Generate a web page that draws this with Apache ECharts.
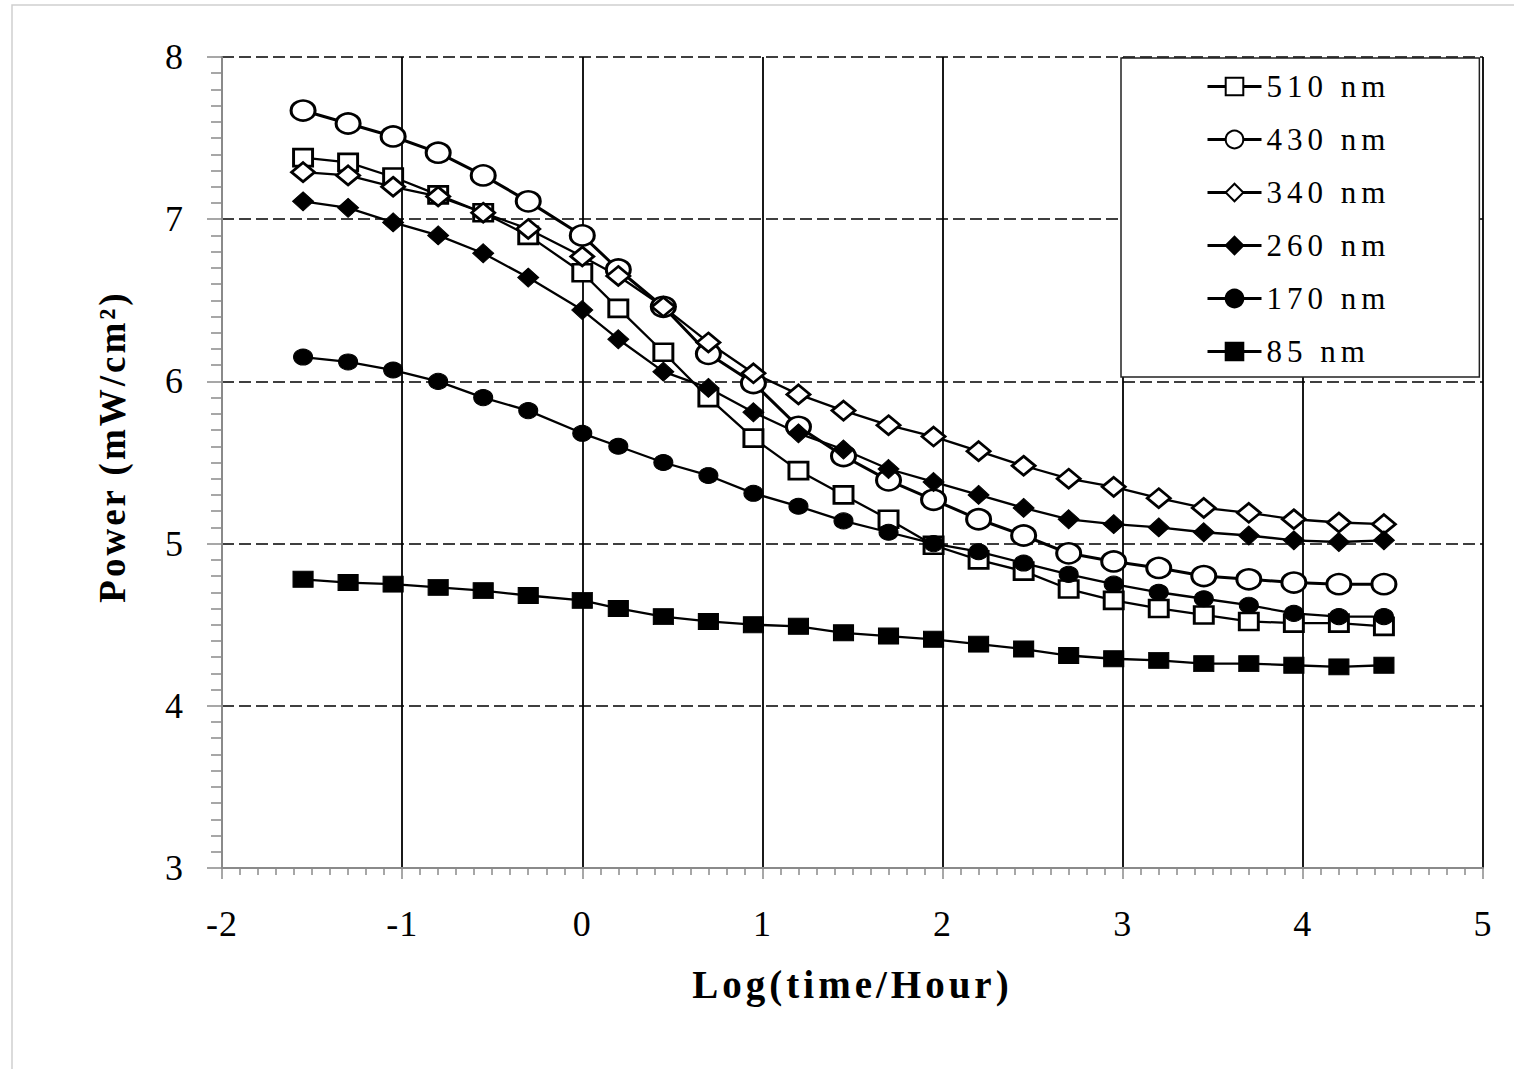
<!DOCTYPE html>
<html>
<head>
<meta charset="utf-8">
<style>
  html, body { margin: 0; padding: 0; background: #fff; }
  #main { width: 1514px; height: 1069px; }
  /* the source figure has widely tracked text; match it per text size */
  #main text[style*="36px"] { letter-spacing: 1px; }
  #main text[style*="31px"] { letter-spacing: 5px; }
  #main text[style*="39px"] { letter-spacing: 4px; }
  #main text[style*="37px"] { letter-spacing: 3px; }
</style>
</head>
<body>
<div id="main"></div>
<script src="https://cdn.jsdelivr.net/npm/echarts@6/dist/echarts.min.js"></script>
<script>
    // log(time/hour) sample points
    var logTime = [-1.55, -1.3, -1.05, -0.8, -0.55, -0.3, 0, 0.2, 0.45, 0.7, 0.95, 1.2, 1.45,
                   1.7, 1.95, 2.2, 2.45, 2.7, 2.95, 3.2, 3.45, 3.7, 3.95, 4.2, 4.45];

    var p510 = [7.38, 7.35, 7.26, 7.15, 7.04, 6.90, 6.67, 6.45, 6.18, 5.90, 5.65, 5.45, 5.30,
                5.15, 4.99, 4.90, 4.83, 4.72, 4.65, 4.60, 4.56, 4.52, 4.51, 4.51, 4.49];
    var p430 = [7.67, 7.59, 7.51, 7.41, 7.27, 7.11, 6.90, 6.69, 6.46, 6.17, 5.99, 5.72, 5.54,
                5.39, 5.27, 5.15, 5.05, 4.94, 4.89, 4.85, 4.80, 4.78, 4.76, 4.75, 4.75];
    var p340 = [7.29, 7.27, 7.20, 7.14, 7.04, 6.94, 6.77, 6.65, 6.46, 6.24, 6.05, 5.92, 5.82,
                5.73, 5.66, 5.57, 5.48, 5.40, 5.35, 5.28, 5.22, 5.19, 5.15, 5.13, 5.12];
    var p260 = [7.11, 7.07, 6.98, 6.90, 6.79, 6.64, 6.44, 6.26, 6.06, 5.96, 5.81, 5.68, 5.58,
                5.46, 5.38, 5.30, 5.22, 5.15, 5.12, 5.10, 5.07, 5.05, 5.02, 5.01, 5.02];
    var p170 = [6.15, 6.12, 6.07, 6.00, 5.90, 5.82, 5.68, 5.60, 5.50, 5.42, 5.31, 5.23, 5.14,
                5.07, 5.00, 4.95, 4.88, 4.81, 4.75, 4.70, 4.66, 4.62, 4.57, 4.55, 4.55];
    var p85  = [4.78, 4.76, 4.75, 4.73, 4.71, 4.68, 4.65, 4.60, 4.55, 4.52, 4.50, 4.49, 4.45,
                4.43, 4.41, 4.38, 4.35, 4.31, 4.29, 4.28, 4.26, 4.26, 4.25, 4.24, 4.25];

    var names = ['510 nm', '430 nm', '340 nm', '260 nm', '170 nm', '85 nm'];

    function pairs(arr) {
        return logTime.map(function (x, i) { return [x, arr[i]]; });
    }

    var font = 'Liberation Serif, Times New Roman, serif';
    var axisGrey = '#8a8a8a';
    var openItem = {color: '#fff', borderColor: '#000', borderWidth: 2.8};
    var fullItem = {color: '#000', borderColor: '#000', borderWidth: 1};

    function mkSeries(name, arr, symbol, size, item, lw) {
        return {
            name: name,
            type: 'line',
            data: pairs(arr),
            symbol: symbol,
            symbolSize: size,
            showAllSymbol: true,
            itemStyle: item,
            lineStyle: {color: '#000', width: lw},
            emphasis: {disabled: true}
        };
    }

    var myChart = echarts.init(document.getElementById('main'), null, {renderer: 'svg'});

    option = {
        animation: false,
        backgroundColor: '#fff',
        graphic: [{
            type: 'rect',
            shape: {x: 12, y: 5, width: 1520, height: 1100},
            style: {fill: 'none', stroke: '#cfcfcf', lineWidth: 1.5},
            silent: true
        }],
        grid: {left: 222, right: 31, top: 57, bottom: 201, outerBoundsMode: 'none'},
        legend: {
            orient: 'vertical',
            left: 1121,
            top: 58,
            padding: [13, 119, 10, 85],
            itemWidth: 54,
            itemHeight: 22,
            itemGap: 22,
            borderColor: '#222',
            borderWidth: 1.5,
            backgroundColor: '#fff',
            lineStyle: {width: 3, color: '#000'},
            textStyle: {fontSize: 31, fontFamily: font, color: '#000', lineHeight: 30},
            data: names
        },
        xAxis: {
            type: 'value',
            min: -2,
            max: 5,
            interval: 1,
            name: 'Log(time/Hour)',
            nameLocation: 'middle',
            nameGap: 97,
            nameTextStyle: {fontSize: 39, fontWeight: 'bold', fontFamily: font, color: '#000'},
            axisLine: {onZero: false, lineStyle: {color: axisGrey, width: 2}},
            axisTick: {length: 11, lineStyle: {color: axisGrey, width: 1.5}},
            minorTick: {show: true, splitNumber: 10, length: 7, lineStyle: {color: axisGrey, width: 1.5}},
            splitLine: {show: true, showMinLine: false, lineStyle: {color: '#000', width: 1.8}},
            axisLabel: {margin: 38, fontSize: 36, fontFamily: font, color: '#000'}
        },
        yAxis: {
            type: 'value',
            min: 3,
            max: 8,
            interval: 1,
            name: 'Power (mW/cm²)',
            nameLocation: 'middle',
            nameGap: 91,
            nameTextStyle: {fontSize: 37, fontWeight: 'bold', fontFamily: font, color: '#000',
                            padding: [0, 0, 0, 32]},
            axisLine: {onZero: false, lineStyle: {color: axisGrey, width: 2}},
            axisTick: {length: 15, lineStyle: {color: axisGrey, width: 1.5}},
            minorTick: {show: true, splitNumber: 10, length: 11, lineStyle: {color: axisGrey, width: 1.5}},
            splitLine: {show: true, showMinLine: false, lineStyle: {color: '#000', width: 1.6, type: [12, 5]}},
            axisLabel: {margin: 38, fontSize: 36, fontFamily: font, color: '#000'}
        },
        series: [
            mkSeries('510 nm', p510, 'rect', [19, 17], openItem, 2.3),
            mkSeries('430 nm', p430, 'circle', [24, 20], openItem, 3),
            mkSeries('340 nm', p340, 'diamond', [23, 19], openItem, 2.3),
            mkSeries('260 nm', p260, 'diamond', [21, 19], fullItem, 2.3),
            mkSeries('170 nm', p170, 'circle', [19, 16], fullItem, 2.3),
            mkSeries('85 nm', p85, 'rect', [20, 16], fullItem, 2.3)
        ]
    };

    myChart.setOption(option);
</script>
</body>
</html>
